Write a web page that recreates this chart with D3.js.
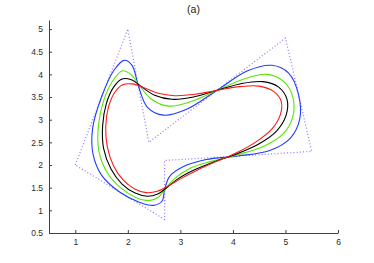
<!DOCTYPE html>
<html>
<head>
<meta charset="utf-8">
<script src="https://cdn.jsdelivr.net/npm/d3@7"></script>
<style>
  body { margin: 0; background: #fff; }
  .axis path, .axis line { stroke: #404040; }
  .axis text { font-family: "Liberation Sans", Arial, sans-serif; font-size: 8.5px; fill: #2a2a2a; }
  .title { font-family: "Liberation Sans", Arial, sans-serif; font-size: 10.5px; fill: #222; }
  .curve { fill: none; stroke-width: 1.1; }
</style>
</head>
<body>
<div id="chart"></div>
<script>
// control polygon (dotted)
let polyX = [1, 2, 2.4, 5, 5.5, 2.7, 2.7];
let polyY = [2, 5, 2.5, 4.8, 2.3, 2.1, 0.8];

// blue curve
let blueX = [1.50, 1.73, 1.93, 2.08, 2.20, 2.37, 2.68, 3.12, 3.70, 4.28, 4.74, 5.06, 5.25, 5.27,
             5.09, 4.70, 4.10, 3.49, 3.05, 2.79, 2.70, 2.65, 2.49, 2.22, 1.85, 1.51, 1.34, 1.33];
let blueY = [3.50, 4.08, 4.31, 4.20, 3.75, 3.28, 3.10, 3.23, 3.65, 4.08, 4.20, 4.03, 3.55, 3.00,
             2.59, 2.32, 2.20, 2.12, 1.96, 1.74, 1.45, 1.20, 1.11, 1.18, 1.40, 1.76, 2.23, 2.81];

// green curve
let greenX = [1.45, 1.44, 1.54, 1.72, 1.90, 2.06, 2.23, 2.45, 2.77, 3.20, 3.70, 4.21, 4.65, 4.97,
              5.14, 5.14, 4.95, 4.58, 4.09, 3.59, 3.17, 2.89, 2.72, 2.59, 2.42, 2.16, 1.87, 1.61];
let greenY = [2.30, 2.86, 3.42, 3.87, 4.08, 4.00, 3.74, 3.45, 3.30, 3.40, 3.65, 3.90, 4.00, 3.84,
              3.50, 3.07, 2.68, 2.41, 2.23, 2.08, 1.92, 1.70, 1.48, 1.30, 1.22, 1.28, 1.49, 1.83];

// black curve
let blackX = [1.89, 1.68, 1.54, 1.52, 1.59, 1.73, 1.89, 2.07, 2.27, 2.51, 2.84, 3.25, 3.70, 4.17,
              4.57, 4.87, 5.03, 5.01, 4.83, 4.50, 4.08, 3.64, 3.26, 2.96, 2.75, 2.57, 2.37, 2.14];
let blackY = [1.58, 1.91, 2.36, 2.86, 3.35, 3.72, 3.90, 3.88, 3.72, 3.54, 3.45, 3.50, 3.65, 3.80,
              3.84, 3.72, 3.45, 3.09, 2.75, 2.47, 2.25, 2.07, 1.89, 1.70, 1.51, 1.36, 1.31, 1.38];

// red curve
let redX = [1.61, 1.58, 1.63, 1.75, 1.90, 2.08, 2.30, 2.56, 2.89, 3.28, 3.71, 4.13, 4.50, 4.78,
            4.92, 4.90, 4.74, 4.44, 4.07, 3.67, 3.31, 3.01, 2.77, 2.56, 2.35, 2.13, 1.91, 1.73];
let redY = [2.40, 2.85, 3.27, 3.60, 3.77, 3.79, 3.71, 3.59, 3.53, 3.56, 3.65, 3.73, 3.74, 3.62,
            3.40, 3.10, 2.79, 2.51, 2.27, 2.07, 1.88, 1.70, 1.54, 1.42, 1.39, 1.47, 1.67, 1.98];

let xTicks = [1, 2, 3, 4, 5, 6];
let yTicks = [0.5, 1, 1.5, 2, 2.5, 3, 3.5, 4, 4.5, 5];

let width = 374, height = 263;
let margin = { top: 20, left: 49, right: 36, bottom: 30 };

let xPositionScale = d3.scaleLinear()
  .domain([0.5, 6])
  .range([margin.left, width - margin.right]);

let yPositionScale = d3.scaleLinear()
  .domain([0.5, 5.2])
  .range([height - margin.bottom, margin.top]);

let svg = d3.select("#chart")
  .append("svg")
  .attr("width", width)
  .attr("height", height);

// axes, MATLAB style ticks pointing inward
let xAxis = d3.axisBottom(xPositionScale)
  .tickValues(xTicks)
  .tickSize(-3)
  .tickSizeOuter(0)
  .tickPadding(6)
  .tickFormat(d3.format("d"));

svg.append("g")
  .attr("class", "axis x-axis")
  .attr("transform", "translate(0," + (height - margin.bottom) + ")")
  .call(xAxis);

let yAxis = d3.axisLeft(yPositionScale)
  .tickValues(yTicks)
  .tickSize(-3)
  .tickSizeOuter(0)
  .tickPadding(6)
  .tickFormat(d => d);

svg.append("g")
  .attr("class", "axis y-axis")
  .attr("transform", "translate(" + margin.left + ",0)")
  .call(yAxis);

svg.append("text")
  .attr("class", "title")
  .attr("x", (xPositionScale.range()[0] + xPositionScale.range()[1]) / 2)
  .attr("y", 13)
  .attr("text-anchor", "middle")
  .text("(a)");

let polyLine = d3.line()
  .curve(d3.curveLinearClosed)
  .x(d => xPositionScale(d[0]))
  .y(d => yPositionScale(d[1]));

let smoothLine = d3.line()
  .curve(d3.curveCatmullRomClosed.alpha(0.5))
  .x(d => xPositionScale(d[0]))
  .y(d => yPositionScale(d[1]));

svg.append("path")
  .attr("d", polyLine(d3.zip(polyX, polyY)))
  .attr("fill", "none")
  .attr("stroke", "#9a6cff")
  .attr("stroke-width", 1.2)
  .attr("stroke-dasharray", "1,2.2");

let curves = [
  { xs: blueX, ys: blueY, color: "#1f3cff" },
  { xs: greenX, ys: greenY, color: "#55e600" },
  { xs: blackX, ys: blackY, color: "#000000" },
  { xs: redX, ys: redY, color: "#ff1a1a" }
];

curves.forEach(c => {
  svg.append("path")
    .attr("class", "curve")
    .attr("d", smoothLine(d3.zip(c.xs, c.ys)))
    .attr("stroke", c.color);
});
</script>
</body>
</html>
